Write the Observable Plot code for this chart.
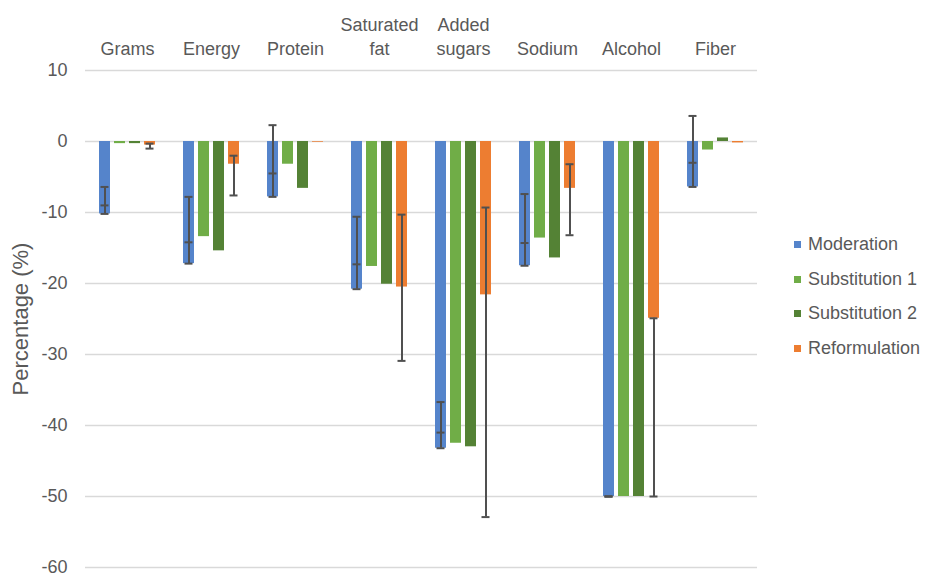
<!DOCTYPE html>
<html>
<head>
<meta charset="utf-8">
<script src="https://cdn.jsdelivr.net/npm/d3@7"></script>
<script src="https://cdn.jsdelivr.net/npm/@observablehq/plot@0.6"></script>
<style>
  body { margin: 0; background: #fff; font-family: "Liberation Sans", Arial, sans-serif; }
  #wrap { position: relative; width: 928px; height: 573px; }
  #legend { position: absolute; left: 794px; top: 227px; color: #595959; font-size: 18px; font-family: "Liberation Sans", Arial, sans-serif; }
  #legend div { height: 34.7px; display: flex; align-items: center; white-space: nowrap; }
  #legend span.sw { display: inline-block; width: 7px; height: 7px; margin-right: 7px; }
</style>
</head>
<body>
<div id="wrap"></div>
<script>
const categories = ["Grams", "Energy", "Protein", "Saturated fat", "Added sugars", "Sodium", "Alcohol", "Fiber"];
const categoryLabels = ["Grams", "Energy", "Protein", "Saturated\nfat", "Added\nsugars", "Sodium", "Alcohol", "Fiber"];
const series = ["Moderation", "Substitution 1", "Substitution 2", "Reformulation"];
const colors = ["#5584CB", "#70AD47", "#548235", "#ED7D31"];

const moderation    = [-10.2, -17.2, -7.8, -20.8, -43.2, -17.5, -50.0, -6.4];
const substitution1 = [-0.3, -13.4, -3.2, -17.6, -42.5, -13.6, -50.0, -1.2];
const substitution2 = [-0.3, -15.4, -6.6, -20.1, -43.0, -16.4, -50.0, 0.5];
const reformulation = [-0.5, -3.2, -0.1, -20.5, -21.6, -6.6, -24.9, -0.2];

// error bars
const moderationErrHi  = [-6.4, -7.8, 2.3, -10.6, -36.7, -7.4, -50.0, 3.6];
const moderationErrMid = [-9.0, -14.2, -4.5, -17.3, -41.0, -14.3, -50.0, -3.0];
const reformulationErrHi = [-0.3, -2.0, null, -10.3, -9.3, -3.2, -24.9, null];
const reformulationErrLo = [-1.0, -7.6, null, -30.9, -52.9, -13.2, -50.0, null];

const yTicks = [10, 0, -10, -20, -30, -40, -50, -60];

const valuesBySeries = [moderation, substitution1, substitution2, reformulation];
const bars = [];
categories.forEach((c, i) => series.forEach((s, j) => bars.push({category: c, series: s, value: valuesBySeries[j][i]})));

const rules = [];
const caps = [];
categories.forEach((c, i) => {
  rules.push({category: c, series: "Moderation", y1: moderationErrHi[i], y2: moderation[i]});
  caps.push({category: c, series: "Moderation", y: moderationErrHi[i]});
  caps.push({category: c, series: "Moderation", y: moderationErrMid[i]});
  caps.push({category: c, series: "Moderation", y: moderation[i]});
  if (reformulationErrHi[i] != null) {
    rules.push({category: c, series: "Reformulation", y1: reformulationErrHi[i], y2: reformulationErrLo[i]});
    caps.push({category: c, series: "Reformulation", y: reformulationErrHi[i]});
    caps.push({category: c, series: "Reformulation", y: reformulationErrLo[i]});
  }
});

const labelMap = new Map(categories.map((c, i) => [c, categoryLabels[i]]));

const chart = Plot.plot({
  width: 928,
  height: 573,
  marginLeft: 82,
  marginRight: 168,
  marginTop: 70,
  marginBottom: 6,
  style: {fontFamily: "'Liberation Sans', Arial, sans-serif", fontSize: "18px", color: "#595959", background: "#fff"},
  fx: {domain: categories, padding: 0, axis: null, label: null},
  x: {domain: series, axis: null, paddingInner: 0.267, paddingOuter: 0.9},
  y: {domain: [-60, 10], ticks: yTicks, tickSize: 0, tickPadding: 18, tickFormat: d => String(d), label: "Percentage (%)", labelAnchor: "center", labelOffset: 73},
  color: {domain: series, range: colors},
  marks: [
    Plot.ruleY(yTicks, {stroke: "#d9d9d9", strokeWidth: 1.3}),
    Plot.barY(bars, {fx: "category", x: "series", y: "value", fill: "series"}),
    Plot.ruleX(rules, {fx: "category", x: "series", y1: "y1", y2: "y2", stroke: "#505050", strokeWidth: 2}),
    Plot.tickY(caps, {fx: "category", x: "series", y: "y", stroke: "#505050", strokeWidth: 2, insetLeft: 1.5, insetRight: 1.5}),
    Plot.text(categories, {fx: d => d, text: d => labelMap.get(d), frameAnchor: "top", lineAnchor: "bottom", dy: -16, lineHeight: 1.28, fontSize: 18, fill: "#595959"})
  ]
});

// y-axis label: plain text, larger, as in the reference
chart.querySelectorAll('[aria-label="y-axis label"] text, [aria-label="y-axis label"]').forEach(el => {
  if (el.tagName.toLowerCase() === "text") {
    el.textContent = "Percentage (%)";
    el.setAttribute("font-size", "22px");
    el.style.fontSize = "22px";
  }
});

const wrap = document.getElementById("wrap");
wrap.appendChild(chart);
const legend = document.createElement("div");
legend.id = "legend";
series.forEach((s, j) => {
  const row = document.createElement("div");
  const sw = document.createElement("span");
  sw.className = "sw";
  sw.style.background = colors[j];
  row.appendChild(sw);
  row.appendChild(document.createTextNode(s));
  legend.appendChild(row);
});
wrap.appendChild(legend);
</script>
</body>
</html>
